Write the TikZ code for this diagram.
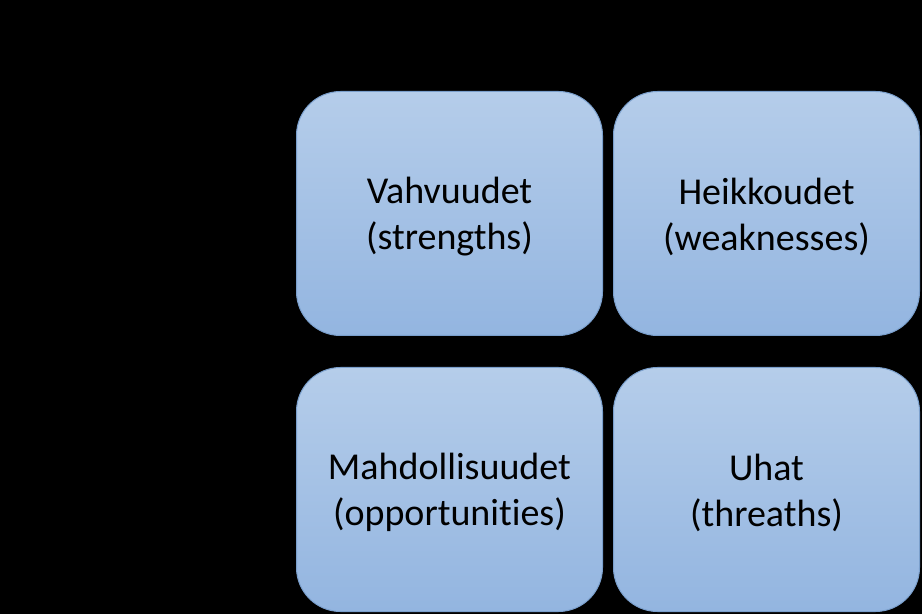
\documentclass[tikz,border=0pt]{standalone}
\usepackage{fontspec}
\setmainfont[Ligatures=NoCommon]{Carlito}
\usetikzlibrary{positioning}

\definecolor{swottop}{HTML}{B5CDEA}
\definecolor{swotbottom}{HTML}{93B5E0}
\definecolor{swotedge}{HTML}{7A9FCC}

\tikzset{
  swotbox/.style={draw=swotedge,line width=1pt,rounded corners=44pt,
    top color=swottop,bottom color=swotbottom,
    minimum width=306pt,minimum height=244pt,inner sep=0pt},
  swottext/.style={align=center,yshift=-3pt,inner sep=0pt,
    font=\fontsize{38}{46}\selectfont,text=black}
}

\begin{document}
\begin{tikzpicture}[x=1pt,y=1pt]
  \fill[black,use as bounding box] (0,0) rectangle (922,614);

  \node[swotbox,label={[swottext]center:Vahvuudet\\(strengths)}] (strengths) at (449.5,400.5) {};
  \node[swotbox,right=10pt of strengths,label={[swottext]center:Heikkoudet\\(weaknesses)}] (weaknesses) {};
  \node[swotbox,below=31pt of strengths,label={[swottext]center:Mahdollisuudet\\(opportunities)}] (opportunities) {};
  \node[swotbox,right=10pt of opportunities,label={[swottext]center:Uhat\\(threaths)}] (threats) {};
\end{tikzpicture}
\end{document}
